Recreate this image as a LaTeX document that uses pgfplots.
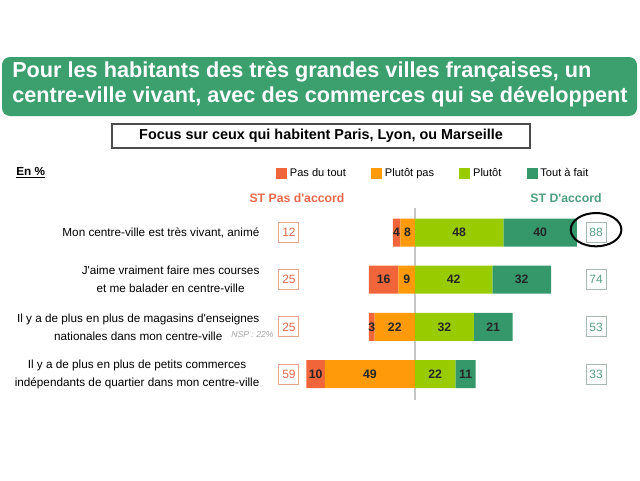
\documentclass[border=0pt]{standalone}
\usepackage{pgfplots}
\pgfplotsset{compat=1.18}
\usepackage{pgfplotstable}
\usepackage{fontspec}
\setmainfont{Liberation Sans}
\usetikzlibrary{shapes.geometric}

\definecolor{cRed}{HTML}{F0663A}
\definecolor{cOrange}{HTML}{FF9A0A}
\definecolor{cLime}{HTML}{99CC00}
\definecolor{cTeal}{HTML}{35986A}
\definecolor{cBanner}{HTML}{3C9F6E}
\definecolor{cHeadRed}{HTML}{E8694A}
\definecolor{cHeadGreen}{HTML}{4C9F80}
\definecolor{cBoxRed}{HTML}{E06A4A}
\definecolor{cBoxRedBorder}{HTML}{E8A58F}
\definecolor{cBoxGreen}{HTML}{5A9F88}
\definecolor{cBoxGreenBorder}{HTML}{A8BAB0}

% diverging bars: disagreement plotted to the left (negative)
\pgfplotstableread{
y orange red lime teal
4 -8 -4 48 40
3 -9 -16 42 32
2 -22 -3 32 21
1 -49 -10 22 11
}\bars

% segment labels at segment centres
\pgfplotstableread{
x y lab
-10 4 4
-4 4 8
24 4 48
68 4 40
-17 3 16
-4.5 3 9
21 3 42
58 3 32
-23.5 2 3
-11 2 22
16 2 32
42.5 2 21
-54 1 10
-24.5 1 49
11 1 22
27.5 1 11
}\seglabels

% ST Pas d'accord
\pgfplotstableread{
x y lab
-68.5 4 12
-68.5 3 25
-68.5 2 25
-68.5 1 59
}\stdis

% ST D'accord
\pgfplotstableread{
x y lab
98.4 4 88
98.4 3 74
98.4 2 53
98.4 1 33
}\stagr

\pgfplotsset{
  chartframe/.style={at={(198.75pt,60pt)}, anchor=south west, scale only axis,
    width=270pt, height=144pt, xmin=-81.52, xmax=114.13, ymin=0.4513, ymax=4.519,
    clip=false},
}

\begin{document}
\begin{tikzpicture}
\begin{scope}[x=0.75pt, y=-0.75pt, yshift=360pt]
  \path[use as bounding box] (0,0) rectangle (640,480);
  \fill[cBanner, rounded corners=6pt] (2,57) rectangle (637,116);
  \node[anchor=base west, inner sep=0pt, text=white, font=\bfseries\fontsize{16.25}{19}\selectfont] at (12,77.7) {Pour les habitants des très grandes villes françaises, un};
  \node[anchor=base west, inner sep=0pt, text=white, font=\bfseries\fontsize{16.25}{19}\selectfont] at (12,102.7) {centre-ville vivant, avec des commerces qui se développent};
  \draw[black!70, line width=0.8pt] (112,124) rectangle (530,148);
  \node[anchor=center, inner sep=0pt, font=\bfseries\fontsize{10.8}{13}\selectfont] at (321,136) {Focus sur ceux qui habitent Paris, Lyon, ou Marseille};
  \node[anchor=west, inner sep=0pt, font=\bfseries\fontsize{8.8}{10}\selectfont] at (16,173) {\underline{En \%}};
  \node[anchor=center, inner sep=0pt, text=cHeadRed, font=\bfseries\fontsize{9.2}{11}\selectfont] at (297,198) {ST Pas d\textquotesingle accord};
  \node[anchor=center, inner sep=0pt, text=cHeadGreen, font=\bfseries\fontsize{9.2}{11}\selectfont] at (566,198) {ST D\textquotesingle accord};
  \node[anchor=west, inner sep=0pt, text=black!35, font=\itshape\fontsize{6.5}{8}\selectfont] at (231,335) {NSP : 22\%};
\end{scope}

% zero reference line (behind the bars)
\begin{axis}[chartframe, hide axis]
\addplot[draw=black!22, line width=1.3pt, mark=none] coordinates {(0,0.4513) (0,4.519)};
\end{axis}

\begin{axis}[chartframe,
  xbar stacked, bar width=21pt,
  axis line style={draw=none},
  xtick=\empty, major tick length=0pt,
  ytick={1,2,3,4},
  yticklabels={{Il y a de plus en plus de petits commerces\\indépendants de quartier dans mon centre-ville},
               {Il y a de plus en plus de magasins d\textquotesingle enseignes\\nationales dans mon centre-ville},
               {J\textquotesingle aime vraiment faire mes courses\\et me balader en centre-ville},
               {Mon centre-ville est très vivant, animé}},
  yticklabel style={align=center, inner sep=0pt, xshift=-4pt, font=\fontsize{8.8}{13.5}\selectfont},
  legend columns=4,
  legend style={at={(0.0306,1.1786)}, anchor=west, draw=none, fill=none, inner sep=0pt,
    font=\fontsize{8.3}{10}\selectfont,
    /tikz/every even column/.append style={column sep=17pt}},
  legend image code/.code={\fill[#1] (0pt,-4.1pt) rectangle (8.25pt,4.1pt);},
]
\addlegendimage{fill=cRed, draw=none}
\addlegendentry{Pas du tout}
\addlegendimage{fill=cOrange, draw=none}
\addlegendentry{Plutôt pas}
\addlegendimage{fill=cLime, draw=none}
\addlegendentry{Plutôt}
\addlegendimage{fill=cTeal, draw=none}
\addlegendentry{Tout à fait}
\addplot[draw=none, fill=cOrange] table[x=orange, y=y] {\bars};
\addplot[draw=none, fill=cRed] table[x=red, y=y] {\bars};
\addplot[draw=none, fill=cLime] table[x=lime, y=y] {\bars};
\addplot[draw=none, fill=cTeal] table[x=teal, y=y] {\bars};
\end{axis}

\begin{axis}[chartframe, hide axis]
\addplot[draw=none, mark=none, point meta=explicit symbolic, nodes near coords,
  every node near coord/.append style={anchor=center, inner sep=0pt, text=black!85,
    font=\bfseries\fontsize{9.2}{10}\selectfont}]
  table[x=x, y=y, meta=lab] {\seglabels};
\addplot[draw=none, mark=none, point meta=explicit symbolic, nodes near coords,
  every node near coord/.append style={anchor=center, inner sep=0pt, draw=cBoxRedBorder,
    line width=0.7pt, fill=white, text=cBoxRed, minimum width=15pt, minimum height=15pt,
    font=\fontsize{9}{10}\selectfont}]
  table[x=x, y=y, meta=lab] {\stdis};
\addplot[draw=none, mark=none, point meta=explicit symbolic, nodes near coords,
  every node near coord/.append style={anchor=center, inner sep=0pt, draw=cBoxGreenBorder,
    line width=0.7pt, fill=white, text=cBoxGreen, minimum width=15pt, minimum height=15pt,
    font=\fontsize{9}{10}\selectfont}]
  table[x=x, y=y, meta=lab] {\stagr};
\addplot[draw=none, mark=none, nodes near coords={},
  every node near coord/.append style={ellipse, draw=black, line width=1.5pt,
    minimum width=38pt, minimum height=25pt, anchor=center, inner sep=0pt}]
  coordinates {(98.4,4.06)};
\end{axis}
\end{tikzpicture}
\end{document}
